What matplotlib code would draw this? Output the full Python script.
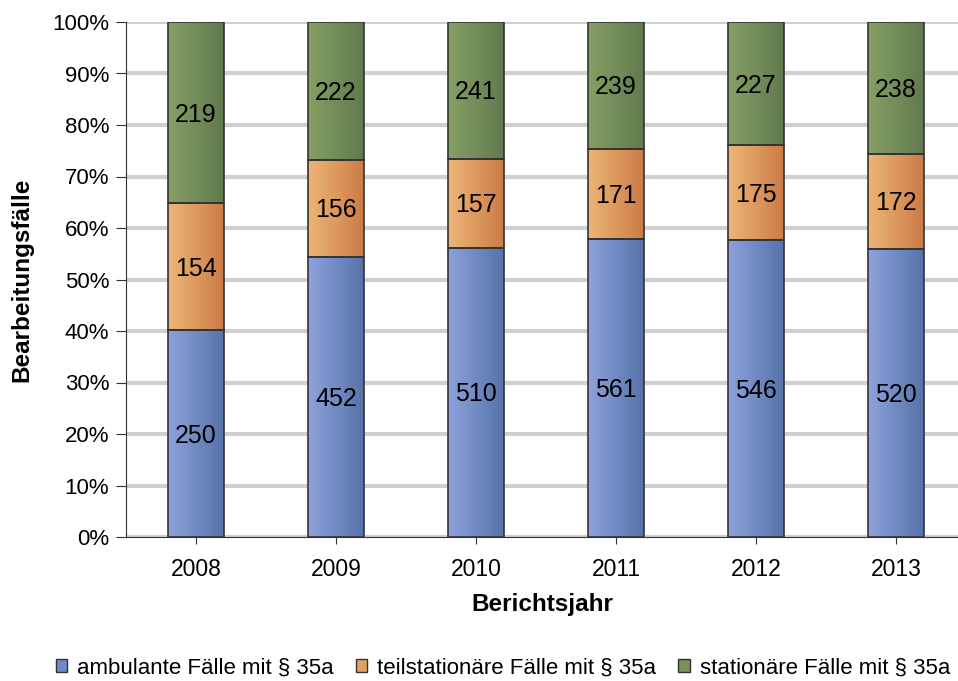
import numpy as np
import matplotlib
matplotlib.use('Agg')
import matplotlib.pyplot as plt
from matplotlib.colors import LinearSegmentedColormap
from matplotlib.patches import Patch

plt.rcParams['font.family'] = ['Liberation Sans', 'DejaVu Sans']

years = ['2008', '2009', '2010', '2011', '2012', '2013']
ambulant = [250, 452, 510, 561, 546, 520]
teilstationaer = [154, 156, 157, 171, 175, 172]
stationaer = [219, 222, 241, 239, 227, 238]

series = [
    ('ambulante Fälle mit § 35a', ambulant, ('#8ea2dc', '#5673aa'), '#7189c8'),
    ('teilstationäre Fälle mit § 35a', teilstationaer, ('#ecb676', '#cc7c47'), '#e0a060'),
    ('stationäre Fälle mit § 35a', stationaer, ('#869f64', '#627a4f'), '#7a9158'),
]

totals = np.array(ambulant) + np.array(teilstationaer) + np.array(stationaer)
x = np.arange(len(years))

fig = plt.figure(figsize=(9.58, 6.81), dpi=100)
# plot area: y-axis at x=126px, runs off the right edge like the original
ax = fig.add_axes([126 / 958, 1 - 537 / 681, 1 - 126 / 958, (537 - 22) / 681])

bottom = np.zeros(len(years))
width = 0.4
for name, vals, (c1, c2), _ in series:
    share = np.array(vals) / totals * 100
    bars = ax.bar(x, share, width, bottom=bottom, color='none',
                  edgecolor='#333333', linewidth=1.2, zorder=3)
    cmap = LinearSegmentedColormap.from_list(name, [c1, c2])
    grad = np.linspace(0, 1, 64).reshape(1, -1)
    for b, v, s, bt in zip(bars, vals, share, bottom):
        im = ax.imshow(grad, cmap=cmap, aspect='auto', zorder=2,
                       extent=[b.get_x(), b.get_x() + b.get_width(), bt, bt + s])
        im.set_clip_path(b)
        ax.text(b.get_x() + b.get_width() / 2, bt + s / 2 - 0.4, str(v),
                ha='center', va='center', fontsize=18, zorder=4)
    bottom += share

ax.set_xlim(-0.5, (958 - 196) / 140)
ax.set_ylim(0, 100)
ax.set_xticks(x)
ax.set_xticklabels(years, fontsize=16.5)
ax.set_yticks(np.arange(0, 101, 10))
ax.set_yticklabels([f'{v}%' for v in range(0, 101, 10)], fontsize=16)
ax.yaxis.grid(True, color='#d0d0d0', linewidth=3, zorder=0)
ax.set_axisbelow(True)
for s in ['top', 'right']:
    ax.spines[s].set_visible(False)
ax.spines['left'].set_color('#333333')
ax.spines['bottom'].set_color('#333333')
ax.tick_params(axis='y', color='#333333', length=7, pad=5)
ax.tick_params(axis='x', color='#333333', length=5, pad=10)

ax.set_xlabel('Berichtsjahr', fontsize=17.5, fontweight='bold')
ax.set_ylabel('Bearbeitungsfälle', fontsize=17.5, fontweight='bold')
ax.xaxis.set_label_coords((542 - 126) / 832, (537 - 593) / 515)
ax.yaxis.set_label_coords((33 - 126) / 832, 0.5)

handles = [Patch(facecolor=fc, edgecolor='#333333', label=name) for name, _, _, fc in series]
fig.legend(handles=handles, loc='center', bbox_to_anchor=(503 / 958, 1 - 668 / 681), ncol=3,
           frameon=False, fontsize=16, handlelength=0.5, handleheight=0.5,
           handletextpad=0.45, columnspacing=1.0)

fig.savefig('out.png', dpi=100)
